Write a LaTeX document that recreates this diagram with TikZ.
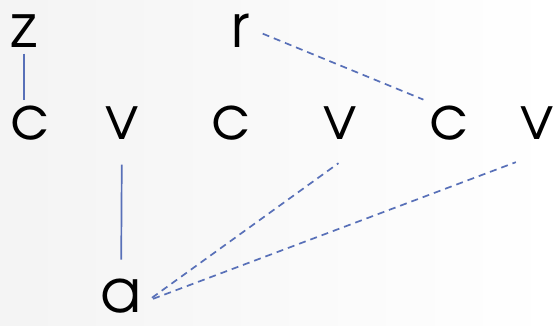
\documentclass[tikz,border=0pt]{standalone}
\usepackage{fontspec}
\setmainfont{texgyreadventor-regular.otf}
\usetikzlibrary{calc}
\definecolor{linkblue}{RGB}{88,112,184}

\begin{document}
\begin{tikzpicture}[x=1pt, y=-1pt, main/.style = {inner sep=6pt, font=\fontsize{60}{60}\selectfont}, link/.style = {draw=linkblue, line width=1.7pt}, dlink/.style = {link, dash pattern=on 7pt off 5pt}]
        \useasboundingbox (0,0) rectangle (555,325);
        \shade[left color=gray!9, right color=white] (0,0) rectangle (555,325);
        \node[main] (1) at (24,31) {z};
        \node[main] (4) at (241,31) {r};
        \node[main] (2) at (30,123) {c};
        \node[main] (3) at (122,123) {v};
        \node[main] (5) at (231,123) {c};
        \node[main] (6) at (340,123) {v};
        \node[main] (7) at (449,123) {c};
        \node[main] (8) at (537,123) {v};
        \node[main, inner sep=3pt] (9) at (121,296) {a};
        \draw[link] (1) -- (1 |- 2.north);
        \draw[link] ($(4.south)+(-5,0)$) -- ($(4.south)+(-5,0)$ |- 5.north);
        \draw[dlink, shorten <=7pt] (4.east) -- (7.north west);
        \draw[link, shorten <=19pt, shorten >=16pt] (3) -- (9);
        \draw[dlink, shorten <=9pt, shorten >=30pt] ($(9.east)+(0,7)$) -- (6.south east);
        \draw[dlink, shorten <=9pt, shorten >=47pt] ($(9.east)+(0,6)$) -- (8.south east);
    \end{tikzpicture}
\end{document}
